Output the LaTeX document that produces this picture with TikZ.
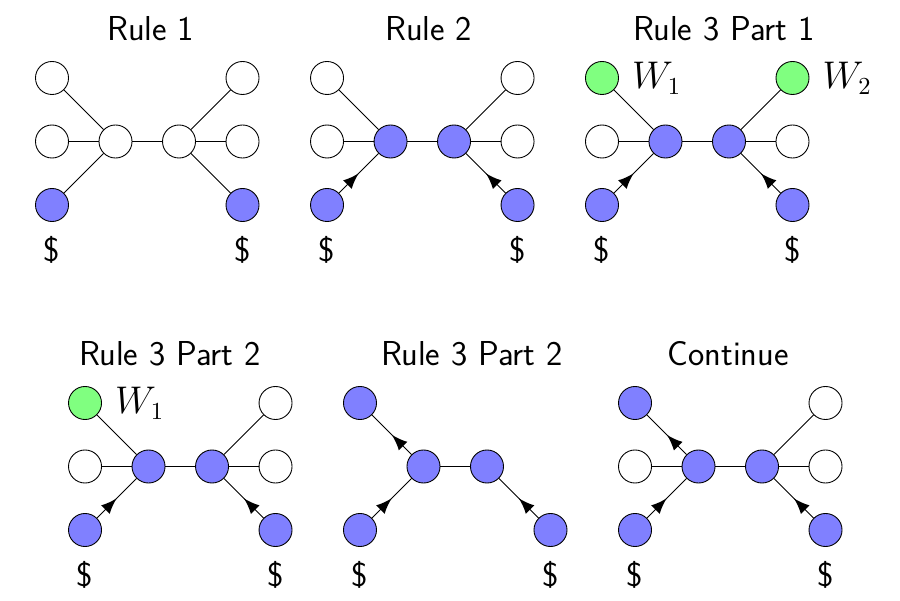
\documentclass[tikz,border=0pt]{standalone}
\usetikzlibrary{arrows}
\usetikzlibrary{positioning}
\usetikzlibrary{decorations.markings}

\begin{document}
\begin{tikzpicture}[line/.style={>=latex},
	vtx/.style={circle, draw=black, fill=white, minimum size=0.52cm, inner sep=0pt},
	held/.style={vtx, fill=blue!50},
	win/.style={vtx, fill=green!50},
	midarrow/.style={postaction={decorate}, decoration={markings, mark=at position 0.5 with {\arrow[scale=1.8]{latex}}}},
	title/.style={anchor=base, font=\fontsize{15.5}{18}\selectfont\sffamily},
	cash/.style={inner sep=0pt, font=\fontsize{15}{18}\selectfont\sffamily},
	wlabel/.style={inner sep=0pt, font=\fontsize{16}{19}\selectfont}]

	\useasboundingbox (0,0) rectangle (14.173,-9.449);

	% titles
	\node[title] (t1) at (2.378,-0.63) {Rule 1};
	\node[title] (t2) at (6.756,-0.63) {Rule 2};
	\node[title] (t3) at (11.402,-0.63) {Rule 3 Part 1};
	\node[title] (t4) at (2.677,-5.748) {Rule 3 Part 2};
	\node[title] (t5) at (7.433,-5.748) {Rule 3 Part 2};
	\node[title] (t6) at (11.465,-5.748) {Continue};

	% Rule 1
	\begin{scope}[shift={(0.819,-1.228)}]
		\node[vtx] (a-tl) at (0,0) {};
		\node[vtx] (a-ml) at (0,-1) {};
		\node[held] (a-bl) at (0,-2) {};
		\node[vtx] (a-cl) at (1,-1) {};
		\node[vtx] (a-cr) at (2,-1) {};
		\node[vtx] (a-tr) at (3,0) {};
		\node[vtx] (a-mr) at (3,-1) {};
		\node[held] (a-br) at (3,-2) {};
		\draw (a-tl) -- (a-cl);
		\draw (a-ml) -- (a-cl);
		\draw (a-bl) -- (a-cl);
		\draw (a-cl) -- (a-cr);
		\draw (a-cr) -- (a-tr);
		\draw (a-cr) -- (a-mr);
		\draw (a-cr) -- (a-br);
		\node[cash, below=0.22cm of a-bl] (a-d1) {\$};
		\node[cash, below=0.22cm of a-br] (a-d2) {\$};
	\end{scope}

	% Rule 2
	\begin{scope}[shift={(5.150,-1.228)}]
		\node[vtx] (b-tl) at (0,0) {};
		\node[vtx] (b-ml) at (0,-1) {};
		\node[held] (b-bl) at (0,-2) {};
		\node[held] (b-cl) at (1,-1) {};
		\node[held] (b-cr) at (2,-1) {};
		\node[vtx] (b-tr) at (3,0) {};
		\node[vtx] (b-mr) at (3,-1) {};
		\node[held] (b-br) at (3,-2) {};
		\draw (b-tl) -- (b-cl);
		\draw (b-ml) -- (b-cl);
		\draw[midarrow] (b-bl) -- (b-cl);
		\draw (b-cl) -- (b-cr);
		\draw (b-cr) -- (b-tr);
		\draw (b-cr) -- (b-mr);
		\draw[midarrow] (b-br) -- (b-cr);
		\node[cash, below=0.22cm of b-bl] (b-d1) {\$};
		\node[cash, below=0.22cm of b-br] (b-d2) {\$};
	\end{scope}

	% Rule 3 Part 1
	\begin{scope}[shift={(9.480,-1.228)}]
		\node[win] (c-tl) at (0,0) {};
		\node[vtx] (c-ml) at (0,-1) {};
		\node[held] (c-bl) at (0,-2) {};
		\node[held] (c-cl) at (1,-1) {};
		\node[held] (c-cr) at (2,-1) {};
		\node[win] (c-tr) at (3,0) {};
		\node[vtx] (c-mr) at (3,-1) {};
		\node[held] (c-br) at (3,-2) {};
		\draw (c-tl) -- (c-cl);
		\draw (c-ml) -- (c-cl);
		\draw[midarrow] (c-bl) -- (c-cl);
		\draw (c-cl) -- (c-cr);
		\draw (c-cr) -- (c-tr);
		\draw (c-cr) -- (c-mr);
		\draw[midarrow] (c-br) -- (c-cr);
		\node[wlabel, right=0.2cm of c-tl] (c-w1) {$W_1$};
		\node[wlabel, right=0.2cm of c-tr] (c-w2) {$W_2$};
		\node[cash, below=0.22cm of c-bl] (c-d1) {\$};
		\node[cash, below=0.22cm of c-br] (c-d2) {\$};
	\end{scope}

	% Rule 3 Part 2
	\begin{scope}[shift={(1.339,-6.346)}]
		\node[win] (d-tl) at (0,0) {};
		\node[vtx] (d-ml) at (0,-1) {};
		\node[held] (d-bl) at (0,-2) {};
		\node[held] (d-cl) at (1,-1) {};
		\node[held] (d-cr) at (2,-1) {};
		\node[vtx] (d-tr) at (3,0) {};
		\node[vtx] (d-mr) at (3,-1) {};
		\node[held] (d-br) at (3,-2) {};
		\draw (d-tl) -- (d-cl);
		\draw (d-ml) -- (d-cl);
		\draw[midarrow] (d-bl) -- (d-cl);
		\draw (d-cl) -- (d-cr);
		\draw (d-cr) -- (d-tr);
		\draw (d-cr) -- (d-mr);
		\draw[midarrow] (d-br) -- (d-cr);
		\node[wlabel, right=0.2cm of d-tl] (d-w1) {$W_1$};
		\node[cash, below=0.22cm of d-bl] (d-d1) {\$};
		\node[cash, below=0.22cm of d-br] (d-d2) {\$};
	\end{scope}

	% Rule 3 Part 2 (after)
	\begin{scope}[shift={(5.669,-6.346)}]
		\node[held] (e-tl) at (0,0) {};
		\node[held] (e-bl) at (0,-2) {};
		\node[held] (e-cl) at (1,-1) {};
		\node[held] (e-cr) at (2,-1) {};
		\node[held] (e-br) at (3,-2) {};
		\draw[midarrow] (e-cl) -- (e-tl);
		\draw[midarrow] (e-bl) -- (e-cl);
		\draw (e-cl) -- (e-cr);
		\draw[midarrow] (e-br) -- (e-cr);
		\node[cash, below=0.22cm of e-bl] (e-d1) {\$};
		\node[cash, below=0.22cm of e-br] (e-d2) {\$};
	\end{scope}

	% Continue
	\begin{scope}[shift={(10.0,-6.346)}]
		\node[held] (f-tl) at (0,0) {};
		\node[vtx] (f-ml) at (0,-1) {};
		\node[held] (f-bl) at (0,-2) {};
		\node[held] (f-cl) at (1,-1) {};
		\node[held] (f-cr) at (2,-1) {};
		\node[vtx] (f-tr) at (3,0) {};
		\node[vtx] (f-mr) at (3,-1) {};
		\node[held] (f-br) at (3,-2) {};
		\draw[midarrow] (f-cl) -- (f-tl);
		\draw (f-ml) -- (f-cl);
		\draw[midarrow] (f-bl) -- (f-cl);
		\draw (f-cl) -- (f-cr);
		\draw (f-cr) -- (f-tr);
		\draw (f-cr) -- (f-mr);
		\draw[midarrow] (f-br) -- (f-cr);
		\node[cash, below=0.22cm of f-bl] (f-d1) {\$};
		\node[cash, below=0.22cm of f-br] (f-d2) {\$};
	\end{scope}

\end{tikzpicture}
\end{document}
